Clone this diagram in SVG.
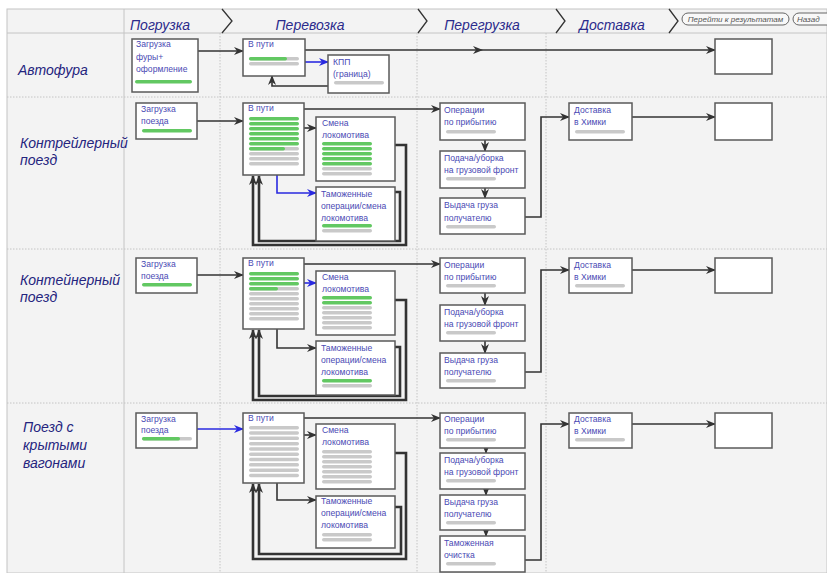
<svg xmlns="http://www.w3.org/2000/svg" width="827" height="573" viewBox="0 0 827 573">
<style>
.hdr{font-family:"Liberation Sans",Arial,sans-serif;font-size:14px;font-style:italic;fill:#2b2b8c}
.lane{font-family:"Liberation Sans",Arial,sans-serif;font-size:14px;font-style:italic;fill:#24247e}
.t{font-family:"Liberation Sans",Arial,sans-serif;font-size:8.6px;fill:#4a4ab4}
.btn{fill:#f8f8f8;stroke:#666;stroke-width:1}
.bt{font-family:"Liberation Sans",Arial,sans-serif;font-size:8px;font-style:italic;fill:#555}
.box{fill:#fff;stroke:#5a5a5a;stroke-width:1.5}
.trk{fill:#c9c9c9}
.grn{fill:#62c862}
.grid{stroke:#c4c4c4;stroke-width:1;fill:none}
.dot{stroke:#c4c4c4;stroke-width:1;stroke-dasharray:1.5 1.5;fill:none}
.chev{stroke:#333;stroke-width:1.3;fill:none}
.c{stroke:#333;stroke-width:1.6;fill:none}
.b{stroke:#2a2ae0;stroke-width:1.6;fill:none}
.r{stroke:#333;stroke-width:2.6;fill:none}
</style>
<defs>
<marker id="a" markerUnits="userSpaceOnUse" markerWidth="10" markerHeight="8" refX="9" refY="4" orient="auto"><path d="M0,0 L10,4 L0,8 L3,4 z" fill="#333"/></marker>
<marker id="ab" markerUnits="userSpaceOnUse" markerWidth="10" markerHeight="8" refX="9" refY="4" orient="auto"><path d="M0,0 L10,4 L0,8 L3,4 z" fill="#2a2ae0"/></marker>
</defs>
<rect x="0" y="0" width="827" height="573" fill="#fff"/>
<rect x="7" y="9" width="820" height="564" fill="#f3f3f3" stroke="#c4c4c4"/>
<g id="grid">
<line class="grid" x1="7" y1="33" x2="827" y2="33"/>
<line class="grid" x1="124" y1="9" x2="124" y2="573"/>
<line class="dot" x1="220" y1="33" x2="220" y2="573"/>
<line class="dot" x1="417" y1="33" x2="417" y2="573"/>
<line class="dot" x1="546" y1="33" x2="546" y2="573"/>
<line class="dot" x1="7" y1="97" x2="827" y2="97"/>
<line class="dot" x1="7" y1="249" x2="827" y2="249"/>
<line class="dot" x1="7" y1="403" x2="827" y2="403"/>
</g>
<g id="header">
<text class="hdr" x="160" y="30" text-anchor="middle">Погрузка</text>
<path class="chev" d="M222,9 L232,21 L222,33"/>
<text class="hdr" x="310" y="30" text-anchor="middle">Перевозка</text>
<path class="chev" d="M418,9 L427,21 L418,33"/>
<text class="hdr" x="482" y="30" text-anchor="middle">Перегрузка</text>
<path class="chev" d="M556,9 L565,21 L556,33"/>
<text class="hdr" x="612" y="30" text-anchor="middle">Доставка</text>
<path class="chev" d="M669,9 L678,21 L669,33"/>
</g>
<g id="btn-results"><rect class="btn" x="682" y="13" width="107" height="12" rx="6"/><text class="bt" x="735.5" y="22" text-anchor="middle">Перейти к результатам</text></g>
<g id="btn-back"><rect class="btn" x="793" y="13" width="40" height="12" rx="6"/><text class="bt" x="797" y="22">Назад</text></g>

<g id="lane-labels">
<text class="lane" x="18" y="75">Автофура</text>
<text class="lane" x="20" y="148">Контрейлерный</text>
<text class="lane" x="20" y="165">поезд</text>
<text class="lane" x="20" y="285">Контейнерный</text>
<text class="lane" x="20" y="302">поезд</text>
<text class="lane" x="23" y="432">Поезд с</text>
<text class="lane" x="23" y="450">крытыми</text>
<text class="lane" x="23" y="468">вагонами</text>
</g>

<g id="connectors">
<path class="c" d="M198,51 L243,51" marker-end="url(#a)"/>
<path class="b" d="M305,62 L328,62" marker-end="url(#ab)"/>
<path class="c" d="M328,86 L272,86 L272,76" marker-end="url(#a)"/>
<path class="c" d="M305,50 L482,50 L715,50" marker-mid="url(#a)" marker-end="url(#a)"/>
<path class="c" d="M197,121 L243,121" marker-end="url(#a)"/>
<path class="c" d="M304,128 L316,128" marker-end="url(#a)"/>
<path class="b" d="M277,175 L277,193 L316,193" marker-end="url(#ab)"/>
<path class="r" d="M395,145 L406,145 L406,245 L253,245 L253,176" marker-end="url(#a)"/>
<path class="r" d="M395,192 L400,192 L400,241 L259,241 L259,176" marker-end="url(#a)"/>
<path class="c" d="M304,109 L440,109" marker-end="url(#a)"/>
<path class="c" d="M485,140 L485,151" marker-end="url(#a)"/>
<path class="c" d="M485,188 L485,198" marker-end="url(#a)"/>
<path class="c" d="M525,217 L541,217 L541,117 L569,117" marker-end="url(#a)"/>
<path class="c" d="M632,117 L715,117" marker-end="url(#a)"/>
<path class="c" d="M197,275 L243,275" marker-end="url(#a)"/>
<path class="b" d="M304,283 L316,283" marker-end="url(#ab)"/>
<path class="c" d="M277,329 L277,348 L316,348" marker-end="url(#a)"/>
<path class="r" d="M395,300 L406,300 L406,400 L253,400 L253,330" marker-end="url(#a)"/>
<path class="r" d="M395,347 L400,347 L400,396 L259,396 L259,330" marker-end="url(#a)"/>
<path class="c" d="M304,264 L440,264" marker-end="url(#a)"/>
<path class="c" d="M485,293 L485,305" marker-end="url(#a)"/>
<path class="c" d="M485,341 L485,353" marker-end="url(#a)"/>
<path class="c" d="M525,372 L541,372 L541,270 L569,270" marker-end="url(#a)"/>
<path class="c" d="M632,270 L715,270" marker-end="url(#a)"/>
<path class="b" d="M197,429 L243,429" marker-end="url(#ab)"/>
<path class="c" d="M304,435 L316,435" marker-end="url(#a)"/>
<path class="c" d="M277,483 L277,500 L316,500" marker-end="url(#a)"/>
<path class="r" d="M395,453 L406,453 L406,559 L253,559 L253,484" marker-end="url(#a)"/>
<path class="r" d="M395,507 L401,507 L401,554 L259,554 L259,484" marker-end="url(#a)"/>
<path class="c" d="M304,418 L440,418" marker-end="url(#a)"/>
<path class="c" d="M486,448 L486,453" marker-end="url(#a)"/>
<path class="c" d="M486,489 L486,495" marker-end="url(#a)"/>
<path class="c" d="M486,530 L486,536" marker-end="url(#a)"/>
<path class="c" d="M525,560 L541,560 L541,424 L569,424" marker-end="url(#a)"/>
<path class="c" d="M632,424 L715,424" marker-end="url(#a)"/>
</g>

<g id="r1-load"><rect class="box" x="132" y="39" width="66" height="53"/>
<text class="t" x="136" y="47">Загрузка</text><text class="t" x="136" y="60">фуры+</text><text class="t" x="136" y="72">оформление</text>
<rect class="grn" x="135" y="80" width="57" height="3.5" rx="1.7"/></g>
<g id="r1-transit"><rect class="box" x="243" y="39" width="62" height="37"/>
<text class="t" x="248" y="47">В пути</text>
<rect class="trk" x="249" y="57" width="50" height="3.5" rx="1.7"/><rect class="grn" x="249" y="57" width="38" height="3.5" rx="1.7"/>
<rect class="trk" x="249" y="62" width="50" height="3.5" rx="1.7"/></g>
<g id="r1-kpp"><rect class="box" x="328" y="55" width="61" height="38"/>
<text class="t" x="333" y="65">КПП</text><text class="t" x="333" y="77">(граница)</text>
<rect class="trk" x="334" y="81" width="50" height="3.5" rx="1.7"/></g>
<g id="r1-end"><rect class="box" x="715" y="39" width="57" height="35"/></g>

<g id="r2-load"><rect class="box" x="136" y="103" width="61" height="36"/>
<text class="t" x="141" y="112">Загрузка</text><text class="t" x="141" y="124">поезда</text>
<rect class="grn" x="142" y="129" width="50" height="3.5" rx="1.7"/></g>
<g id="r2-transit"><rect class="box" x="243" y="103" width="61" height="72"/>
<text class="t" x="248" y="111">В пути</text>
<rect class="grn" x="249" y="117" width="50" height="3.5" rx="1.7"/>
<rect class="grn" x="249" y="122" width="50" height="3.5" rx="1.7"/>
<rect class="grn" x="249" y="127" width="50" height="3.5" rx="1.7"/>
<rect class="grn" x="249" y="132" width="50" height="3.5" rx="1.7"/>
<rect class="grn" x="249" y="137" width="50" height="3.5" rx="1.7"/>
<rect class="grn" x="249" y="142" width="50" height="3.5" rx="1.7"/>
<rect class="trk" x="249" y="147" width="50" height="3.5" rx="1.7"/><rect class="grn" x="249" y="147" width="36" height="3.5" rx="1.7"/>
<rect class="trk" x="249" y="152" width="50" height="3.5" rx="1.7"/>
<rect class="trk" x="249" y="157" width="50" height="3.5" rx="1.7"/>
<rect class="trk" x="249" y="162" width="50" height="3.5" rx="1.7"/></g>
<g id="r2-loco"><rect class="box" x="316" y="117" width="79" height="64"/>
<text class="t" x="322" y="126">Смена</text><text class="t" x="322" y="138">локомотива</text>
<rect class="grn" x="322" y="142" width="50" height="3.5" rx="1.7"/>
<rect class="grn" x="322" y="147" width="50" height="3.5" rx="1.7"/>
<rect class="grn" x="322" y="152" width="50" height="3.5" rx="1.7"/>
<rect class="grn" x="322" y="157" width="50" height="3.5" rx="1.7"/>
<rect class="grn" x="322" y="162" width="50" height="3.5" rx="1.7"/>
<rect class="trk" x="322" y="167" width="50" height="3.5" rx="1.7"/>
<rect class="trk" x="322" y="172" width="50" height="3.5" rx="1.7"/></g>
<g id="r2-customs"><rect class="box" x="316" y="187" width="79" height="54"/>
<text class="t" x="321" y="197">Таможенные</text><text class="t" x="321" y="209">операции/смена</text><text class="t" x="321" y="221">локомотива</text>
<rect class="grn" x="322" y="224" width="50" height="3.5" rx="1.7"/>
<rect class="trk" x="322" y="229" width="50" height="3.5" rx="1.7"/></g>
<g id="r2-arrival"><rect class="box" x="440" y="103" width="85" height="37"/>
<text class="t" x="444" y="113">Операции</text><text class="t" x="444" y="125">по прибытию</text>
<rect class="trk" x="446" y="130" width="50" height="3.5" rx="1.7"/></g>
<g id="r2-feed"><rect class="box" x="440" y="151" width="85" height="37"/>
<text class="t" x="444" y="161">Подача/уборка</text><text class="t" x="444" y="173">на грузовой фронт</text>
<rect class="trk" x="446" y="177" width="50" height="3.5" rx="1.7"/></g>
<g id="r2-issue"><rect class="box" x="440" y="198" width="85" height="36"/>
<text class="t" x="444" y="208">Выдача груза</text><text class="t" x="444" y="221">получателю</text>
<rect class="trk" x="446" y="225" width="50" height="3.5" rx="1.7"/></g>
<g id="r2-delivery"><rect class="box" x="569" y="103" width="63" height="37"/>
<text class="t" x="574" y="113">Доставка</text><text class="t" x="574" y="125">в Химки</text>
<rect class="trk" x="575" y="130" width="50" height="3.5" rx="1.7"/></g>
<g id="r2-end"><rect class="box" x="715" y="103" width="57" height="37"/></g>

<g id="r3-load"><rect class="box" x="136" y="258" width="61" height="35"/>
<text class="t" x="141" y="267">Загрузка</text><text class="t" x="141" y="279">поезда</text>
<rect class="grn" x="142" y="283" width="50" height="3.5" rx="1.7"/></g>
<g id="r3-transit"><rect class="box" x="243" y="258" width="61" height="71"/>
<text class="t" x="248" y="266">В пути</text>
<rect class="grn" x="249" y="272" width="50" height="3.5" rx="1.7"/>
<rect class="grn" x="249" y="277" width="50" height="3.5" rx="1.7"/>
<rect class="grn" x="249" y="282" width="50" height="3.5" rx="1.7"/>
<rect class="trk" x="249" y="287" width="50" height="3.5" rx="1.7"/><rect class="grn" x="249" y="287" width="29" height="3.5" rx="1.7"/>
<rect class="trk" x="249" y="292" width="50" height="3.5" rx="1.7"/>
<rect class="trk" x="249" y="297" width="50" height="3.5" rx="1.7"/>
<rect class="trk" x="249" y="302" width="50" height="3.5" rx="1.7"/>
<rect class="trk" x="249" y="307" width="50" height="3.5" rx="1.7"/>
<rect class="trk" x="249" y="312" width="50" height="3.5" rx="1.7"/>
<rect class="trk" x="249" y="317" width="50" height="3.5" rx="1.7"/></g>
<g id="r3-loco"><rect class="box" x="316" y="271" width="79" height="64"/>
<text class="t" x="322" y="280">Смена</text><text class="t" x="322" y="292">локомотива</text>
<rect class="grn" x="322" y="296" width="50" height="3.5" rx="1.7"/>
<rect class="grn" x="322" y="301" width="50" height="3.5" rx="1.7"/>
<rect class="trk" x="322" y="306" width="50" height="3.5" rx="1.7"/>
<rect class="trk" x="322" y="311" width="50" height="3.5" rx="1.7"/>
<rect class="trk" x="322" y="316" width="50" height="3.5" rx="1.7"/>
<rect class="trk" x="322" y="321" width="50" height="3.5" rx="1.7"/>
<rect class="trk" x="322" y="326" width="50" height="3.5" rx="1.7"/></g>
<g id="r3-customs"><rect class="box" x="316" y="341" width="79" height="54"/>
<text class="t" x="321" y="351">Таможенные</text><text class="t" x="321" y="363">операции/смена</text><text class="t" x="321" y="375">локомотива</text>
<rect class="grn" x="322" y="379" width="50" height="3.5" rx="1.7"/>
<rect class="trk" x="322" y="384" width="50" height="3.5" rx="1.7"/></g>
<g id="r3-arrival"><rect class="box" x="440" y="258" width="85" height="35"/>
<text class="t" x="444" y="268">Операции</text><text class="t" x="444" y="280">по прибытию</text>
<rect class="trk" x="446" y="284" width="50" height="3.5" rx="1.7"/></g>
<g id="r3-feed"><rect class="box" x="440" y="305" width="85" height="36"/>
<text class="t" x="444" y="315">Подача/уборка</text><text class="t" x="444" y="327">на грузовой фронт</text>
<rect class="trk" x="446" y="331" width="50" height="3.5" rx="1.7"/></g>
<g id="r3-issue"><rect class="box" x="440" y="353" width="85" height="35"/>
<text class="t" x="444" y="363">Выдача груза</text><text class="t" x="444" y="375">получателю</text>
<rect class="trk" x="446" y="379" width="50" height="3.5" rx="1.7"/></g>
<g id="r3-delivery"><rect class="box" x="569" y="258" width="63" height="35"/>
<text class="t" x="574" y="268">Доставка</text><text class="t" x="574" y="280">в Химки</text>
<rect class="trk" x="575" y="284" width="50" height="3.5" rx="1.7"/></g>
<g id="r3-end"><rect class="box" x="715" y="258" width="57" height="35"/></g>

<g id="r4-load"><rect class="box" x="136" y="413" width="61" height="35"/>
<text class="t" x="141" y="422">Загрузка</text><text class="t" x="141" y="433">поезда</text>
<rect class="trk" x="142" y="437" width="50" height="3.5" rx="1.7"/><rect class="grn" x="142" y="437" width="38" height="3.5" rx="1.7"/></g>
<g id="r4-transit"><rect class="box" x="243" y="413" width="61" height="70"/>
<text class="t" x="248" y="421">В пути</text>
<rect class="trk" x="249" y="426" width="50" height="3.5" rx="1.7"/>
<rect class="trk" x="249" y="431.3" width="50" height="3.5" rx="1.7"/>
<rect class="trk" x="249" y="436.6" width="50" height="3.5" rx="1.7"/>
<rect class="trk" x="249" y="441.9" width="50" height="3.5" rx="1.7"/>
<rect class="trk" x="249" y="447.2" width="50" height="3.5" rx="1.7"/>
<rect class="trk" x="249" y="452.5" width="50" height="3.5" rx="1.7"/>
<rect class="trk" x="249" y="457.8" width="50" height="3.5" rx="1.7"/>
<rect class="trk" x="249" y="463.1" width="50" height="3.5" rx="1.7"/>
<rect class="trk" x="249" y="468.4" width="50" height="3.5" rx="1.7"/>
<rect class="trk" x="249" y="473.7" width="50" height="3.5" rx="1.7"/></g>
<g id="r4-loco"><rect class="box" x="316" y="424" width="79" height="65"/>
<text class="t" x="322" y="433">Смена</text><text class="t" x="322" y="445">локомотива</text>
<rect class="trk" x="322" y="450" width="50" height="3.5" rx="1.7"/>
<rect class="trk" x="322" y="455" width="50" height="3.5" rx="1.7"/>
<rect class="trk" x="322" y="460" width="50" height="3.5" rx="1.7"/>
<rect class="trk" x="322" y="465" width="50" height="3.5" rx="1.7"/>
<rect class="trk" x="322" y="470" width="50" height="3.5" rx="1.7"/>
<rect class="trk" x="322" y="475" width="50" height="3.5" rx="1.7"/>
<rect class="trk" x="322" y="480" width="50" height="3.5" rx="1.7"/></g>
<g id="r4-customs"><rect class="box" x="316" y="496" width="79" height="52"/>
<text class="t" x="321" y="504">Таможенные</text><text class="t" x="321" y="516">операции/смена</text><text class="t" x="321" y="528">локомотива</text>
<rect class="trk" x="322" y="533" width="50" height="3.5" rx="1.7"/>
<rect class="trk" x="322" y="538" width="50" height="3.5" rx="1.7"/></g>
<g id="r4-arrival"><rect class="box" x="440" y="413" width="85" height="35"/>
<text class="t" x="444" y="422">Операции</text><text class="t" x="444" y="434">по прибытию</text>
<rect class="trk" x="446" y="438" width="50" height="3.5" rx="1.7"/></g>
<g id="r4-feed"><rect class="box" x="440" y="453" width="85" height="36"/>
<text class="t" x="444" y="463">Подача/уборка</text><text class="t" x="444" y="475">на грузовой фронт</text>
<rect class="trk" x="446" y="479" width="50" height="3.5" rx="1.7"/></g>
<g id="r4-issue"><rect class="box" x="440" y="495" width="85" height="35"/>
<text class="t" x="444" y="505">Выдача груза</text><text class="t" x="444" y="517">получателю</text>
<rect class="trk" x="446" y="521" width="50" height="3.5" rx="1.7"/></g>
<g id="r4-clearance"><rect class="box" x="440" y="536" width="85" height="36"/>
<text class="t" x="444" y="546">Таможенная</text><text class="t" x="444" y="558">очистка</text>
<rect class="trk" x="446" y="562" width="50" height="3.5" rx="1.7"/></g>
<g id="r4-delivery"><rect class="box" x="569" y="413" width="63" height="35"/>
<text class="t" x="574" y="422">Доставка</text><text class="t" x="574" y="434">в Химки</text>
<rect class="trk" x="575" y="438" width="50" height="3.5" rx="1.7"/></g>
<g id="r4-end"><rect class="box" x="715" y="413" width="57" height="35"/></g>
</svg>
